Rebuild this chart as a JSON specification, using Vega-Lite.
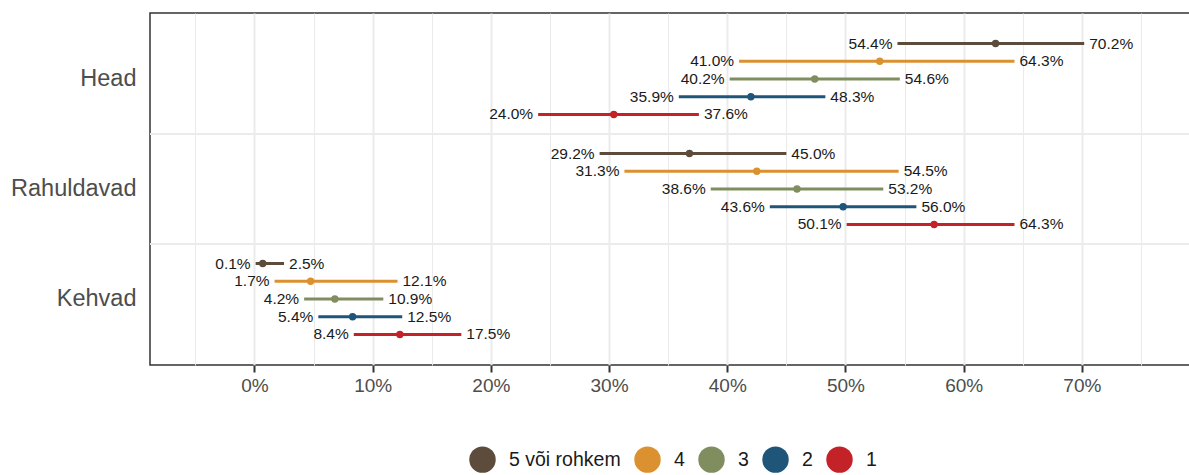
{
  "$schema": "https://vega.github.io/schema/vega-lite/v6.json",
  "width": 1040,
  "height": 352,
  "autosize": {"type": "none"},
  "padding": {"left": 150, "top": 13, "right": 0, "bottom": 110},
  "background": "white",
  "config": {
    "font": "Liberation Sans",
    "view": {"stroke": "#333333", "strokeWidth": 1.5},
    "axis": {"labelFont": "Liberation Sans", "titleFont": "Liberation Sans"},
    "legend": {"labelFont": "Liberation Sans"}
  },
  "datasets": {
    "ci": [
      {"group": "Head", "series": "5 või rohkem", "est": 0.627, "lo": 0.544, "hi": 0.702},
      {"group": "Head", "series": "4", "est": 0.529, "lo": 0.410, "hi": 0.643},
      {"group": "Head", "series": "3", "est": 0.474, "lo": 0.402, "hi": 0.546},
      {"group": "Head", "series": "2", "est": 0.420, "lo": 0.359, "hi": 0.483},
      {"group": "Head", "series": "1", "est": 0.304, "lo": 0.240, "hi": 0.376},
      {"group": "Rahuldavad", "series": "5 või rohkem", "est": 0.368, "lo": 0.292, "hi": 0.450},
      {"group": "Rahuldavad", "series": "4", "est": 0.425, "lo": 0.313, "hi": 0.545},
      {"group": "Rahuldavad", "series": "3", "est": 0.459, "lo": 0.386, "hi": 0.532},
      {"group": "Rahuldavad", "series": "2", "est": 0.498, "lo": 0.436, "hi": 0.560},
      {"group": "Rahuldavad", "series": "1", "est": 0.575, "lo": 0.501, "hi": 0.643},
      {"group": "Kehvad", "series": "5 või rohkem", "est": 0.007, "lo": 0.001, "hi": 0.025},
      {"group": "Kehvad", "series": "4", "est": 0.0475, "lo": 0.017, "hi": 0.121},
      {"group": "Kehvad", "series": "3", "est": 0.068, "lo": 0.042, "hi": 0.109},
      {"group": "Kehvad", "series": "2", "est": 0.083, "lo": 0.054, "hi": 0.125},
      {"group": "Kehvad", "series": "1", "est": 0.123, "lo": 0.084, "hi": 0.175}
    ],
    "seps": [
      {"group": "Rahuldavad"},
      {"group": "Kehvad"}
    ]
  },
  "resolve": {"axis": {"x": "independent"}},
  "layer": [
    {
      "data": {"name": "seps"},
      "mark": {"type": "rule", "color": "#ebebeb", "strokeWidth": 2},
      "encoding": {
        "y": {
          "field": "group", "type": "nominal", "bandPosition": 0,
          "sort": ["Head", "Rahuldavad", "Kehvad"],
          "scale": {"domain": ["Head", "Rahuldavad", "Kehvad"], "paddingInner": 0, "paddingOuter": 0.1},
          "axis": {"title": null, "ticks": false, "domain": false, "grid": false, "labelFontSize": 23.5, "labelColor": "#4d4d4d", "labelPadding": 14}
        }
      }
    },
    {
      "data": {"name": "ci"},
      "mark": {"type": "rule", "strokeWidth": 3},
      "encoding": {
        "y": {
          "field": "group", "type": "nominal",
          "sort": ["Head", "Rahuldavad", "Kehvad"],
          "axis": {"title": null, "ticks": false, "domain": false, "grid": false, "labelFontSize": 23.5, "labelColor": "#4d4d4d", "labelPadding": 14}
        },
        "yOffset": {
          "field": "series", "type": "nominal",
          "sort": ["5 või rohkem", "4", "3", "2", "1"],
          "scale": {"domain": ["5 või rohkem", "4", "3", "2", "1"], "paddingInner": 0, "paddingOuter": 0.6}
        },
        "x": {
          "field": "lo", "type": "quantitative",
          "scale": {"domain": [-0.0884, 0.7915], "nice": false, "zero": false},
          "axis": {
            "title": null, "format": ".0%", "values": [0, 0.1, 0.2, 0.3, 0.4, 0.5, 0.6, 0.7],
            "grid": true, "gridColor": "#ebebeb", "gridWidth": 2,
            "domain": false, "tickColor": "#333333", "tickWidth": 2, "tickSize": 7,
            "labelFontSize": 19, "labelColor": "#4d4d4d", "labelPadding": 4
          }
        },
        "x2": {"field": "hi"},
        "color": {
          "field": "series", "type": "nominal",
          "sort": ["5 või rohkem", "4", "3", "2", "1"],
          "scale": {"domain": ["5 või rohkem", "4", "3", "2", "1"], "range": ["#5d4b3c", "#dc9130", "#808e5f", "#1f5578", "#c32328"]},
          "legend": {
            "title": null, "orient": "none", "direction": "horizontal",
            "legendX": 319, "legendY": 433,
            "symbolType": "circle", "symbolSize": 700, "symbolStrokeWidth": 0, "symbolOpacity": 1,
            "labelFontSize": 19.5, "labelColor": "#1a1a1a", "labelOffset": 13, "columnPadding": 13
          }
        }
      }
    },
    {
      "data": {"name": "ci"},
      "mark": {"type": "point", "filled": true, "opacity": 1, "size": 55},
      "encoding": {
        "y": {"field": "group", "type": "nominal", "sort": ["Head", "Rahuldavad", "Kehvad"]},
        "yOffset": {"field": "series", "type": "nominal", "sort": ["5 või rohkem", "4", "3", "2", "1"]},
        "x": {
          "field": "est", "type": "quantitative",
          "axis": {
            "title": null, "values": [-0.05, 0.05, 0.15, 0.25, 0.35, 0.45, 0.55, 0.65, 0.75],
            "grid": true, "gridColor": "#ebebeb", "gridWidth": 1,
            "labels": false, "ticks": false, "domain": false, "orient": "bottom"
          }
        },
        "color": {"field": "series", "type": "nominal", "sort": ["5 või rohkem", "4", "3", "2", "1"]}
      }
    },
    {
      "data": {"name": "ci"},
      "mark": {"type": "text", "align": "right", "baseline": "middle", "dx": -5, "fontSize": 15.5, "color": "#1a1a1a"},
      "encoding": {
        "y": {"field": "group", "type": "nominal", "sort": ["Head", "Rahuldavad", "Kehvad"]},
        "yOffset": {"field": "series", "type": "nominal", "sort": ["5 või rohkem", "4", "3", "2", "1"]},
        "x": {"field": "lo", "type": "quantitative", "axis": null},
        "text": {"field": "lo", "type": "quantitative", "format": ".1%"}
      }
    },
    {
      "data": {"name": "ci"},
      "mark": {"type": "text", "align": "left", "baseline": "middle", "dx": 5, "fontSize": 15.5, "color": "#1a1a1a"},
      "encoding": {
        "y": {"field": "group", "type": "nominal", "sort": ["Head", "Rahuldavad", "Kehvad"]},
        "yOffset": {"field": "series", "type": "nominal", "sort": ["5 või rohkem", "4", "3", "2", "1"]},
        "x": {"field": "hi", "type": "quantitative", "axis": null},
        "text": {"field": "hi", "type": "quantitative", "format": ".1%"}
      }
    }
  ]
}
